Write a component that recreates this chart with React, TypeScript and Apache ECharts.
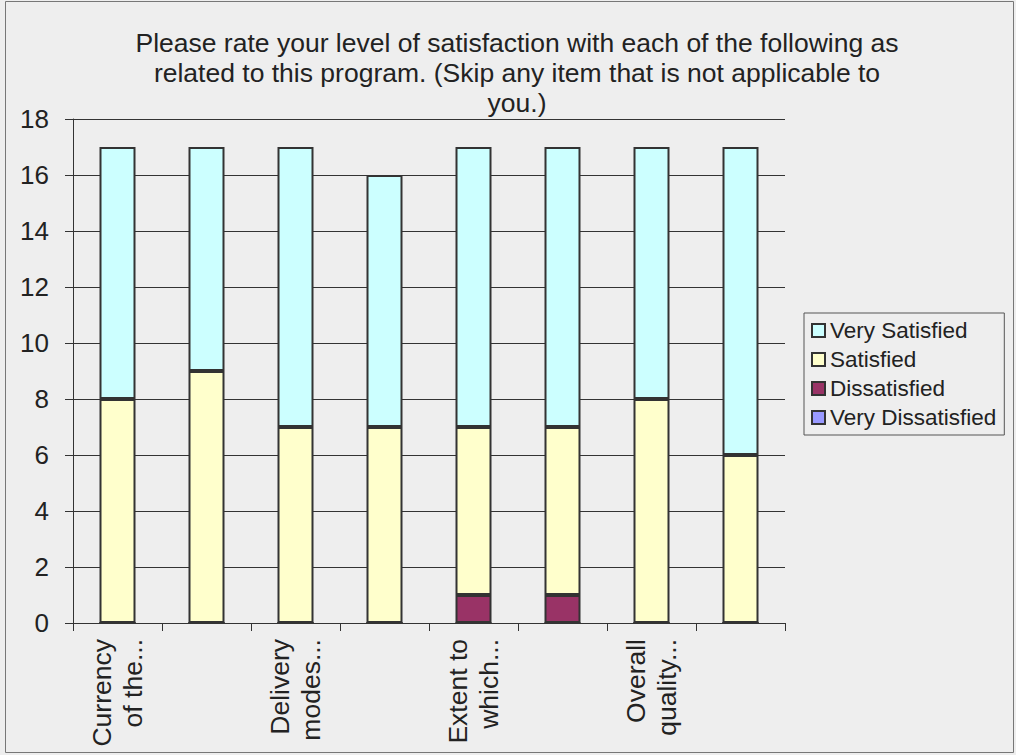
import React, { useEffect, useRef } from "react";
import * as echarts from "echarts";

// Survey items (only every other item carries a printed label on the axis)
const categories = [
  "Currency\nof the...",
  "",
  "Delivery\nmodes...",
  "",
  "Extent to\nwhich...",
  "",
  "Overall\nquality...",
  "",
];

// Response counts per item, stacked bottom to top
const veryDissatisfied = [0, 0, 0, 0, 0, 0, 0, 0];
const dissatisfied = [0, 0, 0, 0, 1, 1, 0, 0];
const satisfied = [8, 9, 7, 7, 6, 6, 8, 6];
const verySatisfied = [9, 8, 10, 9, 10, 10, 9, 11];

const legendOrder = ["Very Satisfied", "Satisfied", "Dissatisfied", "Very Dissatisfied"];

const titleText =
  "Please rate your level of satisfaction with each of the following as\nrelated to this program. (Skip any item that is not applicable to\nyou.)";

const FONT = "Liberation Sans, Arial, sans-serif";
const INK = "#222222";
const EDGE = "#333333";

export default function App() {
  const ref = useRef<HTMLDivElement>(null);

  useEffect(() => {
    if (!ref.current) return;
    const chart = echarts.init(ref.current, undefined, { renderer: "svg" });

    const bar = (name: string, data: number[], color: string) => ({
      name,
      type: "bar",
      stack: "total",
      data,
      barWidth: 36,
      itemStyle: { color, borderColor: EDGE, borderWidth: 2 },
    });

    chart.setOption({
      animation: false,
      backgroundColor: "#eeeeee",
      textStyle: { fontFamily: FONT },
      graphic: [
        {
          type: "rect",
          shape: { x: 5.5, y: 1.5, width: 1008, height: 751 },
          style: { fill: "none", stroke: "#777777", lineWidth: 1 },
          silent: true,
        },
      ],
      title: {
        text: titleText,
        left: 512,
        top: 23,
        textAlign: "center",
        textStyle: {
          fontFamily: FONT,
          fontSize: 26.5,
          lineHeight: 30,
          fontWeight: "normal",
          color: INK,
        },
      },
      legend: {
        orient: "vertical",
        left: 804,
        top: 313,
        data: legendOrder,
        icon: "rect",
        itemWidth: 13,
        itemHeight: 13,
        itemGap: 6,
        padding: [6, 8, 6, 7],
        borderColor: "#555555",
        borderWidth: 1,
        textStyle: { fontFamily: FONT, fontSize: 22.5, lineHeight: 21, color: INK },
      },
      grid: { left: 73, right: 231, top: 119, bottom: 132, containLabel: false },
      xAxis: {
        type: "category",
        data: categories,
        axisLine: { show: true, lineStyle: { color: EDGE, width: 1 } },
        axisTick: { show: true, interval: 0, length: 8, lineStyle: { color: EDGE } },
        axisLabel: {
          interval: 0,
          rotate: 90,
          margin: 16,
          fontFamily: FONT,
          fontSize: 26.5,
          lineHeight: 31,
          color: INK,
        },
      },
      yAxis: {
        type: "value",
        min: 0,
        max: 18,
        interval: 2,
        axisLine: { show: true, lineStyle: { color: EDGE, width: 1 } },
        axisTick: { show: true, length: 8, lineStyle: { color: EDGE } },
        splitLine: { show: true, lineStyle: { color: EDGE, width: 1 } },
        axisLabel: { margin: 24, fontFamily: FONT, fontSize: 26, color: INK },
      },
      series: [
        bar("Very Dissatisfied", veryDissatisfied, "#9999ff"),
        bar("Dissatisfied", dissatisfied, "#993366"),
        bar("Satisfied", satisfied, "#ffffcc"),
        bar("Very Satisfied", verySatisfied, "#ccffff"),
      ],
    });

    return () => chart.dispose();
  }, []);

  return (
    <div
      ref={ref}
      style={{ position: "fixed", left: 0, top: 0, width: 1016, height: 755 }}
    />
  );
}
